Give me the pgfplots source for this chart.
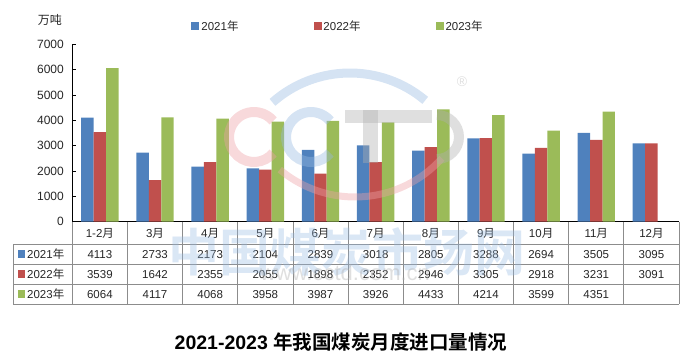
\documentclass[border=0pt]{standalone}
\usepackage{fontspec}
\setmainfont{Liberation Sans}
\newfontfamily\cjk{Noto Sans CJK SC}[BoldFont={Noto Sans CJK SC Bold}]
\usepackage{pgfplots}
\pgfplotsset{compat=1.18}
\usepackage{pgfplotstable}
\newcommand\yue{{\cjk 月}}
\newcommand\nian{{\cjk 年}}

\definecolor{c21}{RGB}{79,129,189}
\definecolor{c22}{RGB}{192,80,77}
\definecolor{c23}{RGB}{155,187,89}
\definecolor{tgrid}{RGB}{140,140,140}
\definecolor{wmblue}{RGB}{150,185,225}
\definecolor{wmpink}{RGB}{238,160,165}
\definecolor{wmgray}{RGB}{175,175,175}

\pgfkeys{/pgf/number format/.cd, 1000 sep={}, assume math mode=true}

% x: 0 = 1-2月, 1 = 3月, ..., 10 = 12月
\pgfplotstableread{
x y21 y22
0 4113 3539
1 2733 1642
2 2173 2355
3 2104 2055
4 2839 1898
5 3018 2352
6 2805 2946
7 3288 3305
8 2694 2918
9 3505 3231
10 3095 3091
}\importsA
\pgfplotstableread{
x y23
0 6064
1 4117
2 4068
3 3958
4 3987
5 3926
6 4433
7 4214
8 3599
9 4351
}\importsB

\pgfplotsset{
 mybar/.style={ybar, bar width=0.226, draw=none, fill=#1,
   legend image code/.code={\fill[#1] (0bp,-4bp) rectangle (8bp,4bp);}},
 rowtext/.style={draw=none, mark=none, forget plot,
   point meta=explicit,
   nodes near coords={\pgfmathprintnumber{\pgfplotspointmeta}},
   nodes near coords style={anchor=center, yshift=#1, font=\fontsize{11.5bp}{13bp}\selectfont, text=black!85, inner sep=0pt}},
}

\begin{document}
\begin{tikzpicture}
\useasboundingbox (-72.3bp,-138.3bp) rectangle (620.7bp,221.7bp);
\begin{axis}[
 at={(0bp,0bp)}, anchor=south west, scale only axis,
 width=606.7bp, height=177.2bp,
 xmin=-0.5, xmax=10.5, ymin=0, ymax=7000,
 axis lines*=left, axis line style={black, line width=0.8bp},
 clip=false,
 ytick={0,1000,...,7000},
 tick align=inside,
 ytick style={black, line width=0.8bp}, major tick length=4bp,
 yticklabel style={font=\fontsize{12bp}{14bp}\selectfont, text=black!85, xshift=-5bp},
 xtick={0,...,10},
 xticklabels={1-2\yue,3\yue,4\yue,5\yue,6\yue,7\yue,8\yue,9\yue,10\yue,11\yue,12\yue},
 xtick style={draw=none},
 xticklabel style={anchor=center, yshift=-11.3bp, font=\fontsize{11.5bp}{13bp}\selectfont, text=black!85, inner sep=0pt},
 legend style={at={(0.438,1.104)}, anchor=center, draw=none, fill=none,
   font=\fontsize{11.5bp}{13bp}\selectfont, text=black!85,
   /tikz/every even column/.append style={column sep=73bp}},
 legend columns=3,
 legend cell align=left,
]
\addplot[mybar=c21, bar shift=-0.226] table[x=x, y=y21]{\importsA};
\addlegendentry{2021\nian}
\addplot[mybar=c22, bar shift=0] table[x=x, y=y22]{\importsA};
\addlegendentry{2022\nian}
\addplot[mybar=c23, bar shift=0.226] table[x=x, y=y23]{\importsB};
\addlegendentry{2023\nian}
\addplot[rowtext=-32.6bp] table[x=x, y expr=0, meta=y21]{\importsA};
\addplot[rowtext=-52.6bp] table[x=x, y expr=0, meta=y22]{\importsA};
\addplot[rowtext=-72.6bp] table[x=x, y expr=0, meta=y23]{\importsB};
\end{axis}

\begin{scope}[x=1bp,y=-1bp,shift={(-72.3bp,221.7bp)}]
 % table grid
 \foreach \yy in {244.3,264.3,284.3,304.3}
   \draw[tgrid, line width=0.8bp] (13.3,\yy) -- (679,\yy);
 \draw[tgrid, line width=0.8bp] (13.3,244.3) -- (13.3,304.3);
 \foreach \i in {1,...,11}
   \draw[tgrid, line width=0.8bp] ({72.3+55.1545*\i},221.7) -- ({72.3+55.1545*\i},304.3);
 \draw[tgrid, line width=0.8bp] (72.3,221.7) -- (72.3,304.3);
 % row labels
 \foreach \c/\yy/\t in {c21/254.3/2021,c22/274.3/2022,c23/294.3/2023}{
   \fill[\c] (17.7,\yy-4) rectangle (25.4,\yy+4);
   \node[anchor=west, inner sep=0pt, font=\fontsize{11.5bp}{13bp}\selectfont, text=black!85] at (27,\yy) {\t\nian};
 }
 % unit
 \node[font=\fontsize{12bp}{14bp}\selectfont\cjk, text=black!85, inner sep=0pt] at (50,20) {万吨};
 % title
 \node[font=\fontsize{19.5bp}{21bp}\selectfont\bfseries, inner sep=0pt] at (341,342) {2021-2023 {\cjk\bfseries 年我国煤炭月度进口量情况}};
 % watermark
 \begin{scope}[opacity=0.4]
  \draw[wmblue, line width=9bp] ([shift={(-131.5:117)}]350,190) arc[start angle=-131.5, end angle=-50, radius=117];
  \draw[wmpink, line width=7bp] ([shift={(130:117)}]355,80) arc[start angle=130, end angle=42, radius=117];
  \draw[wmpink, line width=10bp] ([shift={(40:25)}]254,137) arc[start angle=40, end angle=320, radius=25];
  \draw[wmblue, line width=10bp] ([shift={(40:25)}]311,137) arc[start angle=40, end angle=320, radius=25];
  \fill[wmgray] (345,110) rectangle (432,123);
  \fill[wmgray] (363,110) rectangle (378,163);
  \draw[wmgray, line width=10bp] ([shift={(-90:22)}]437,137) arc[start angle=-90, end angle=90, radius=22];
  \node[text=wmgray, font=\fontsize{14bp}{16bp}\selectfont, inner sep=0pt] at (462,82) {®};
 \end{scope}
 \node[text=wmblue, opacity=0.35, font=\fontsize{51bp}{54bp}\selectfont\cjk\bfseries, inner sep=0pt] at (347,252) {中国煤炭市场网};
 \node[text=wmgray, opacity=0.4, font=\fontsize{22bp}{24bp}\selectfont, inner sep=0pt] at (345,273) {www.cctd.com.cn};
\end{scope}
\end{tikzpicture}
\end{document}
